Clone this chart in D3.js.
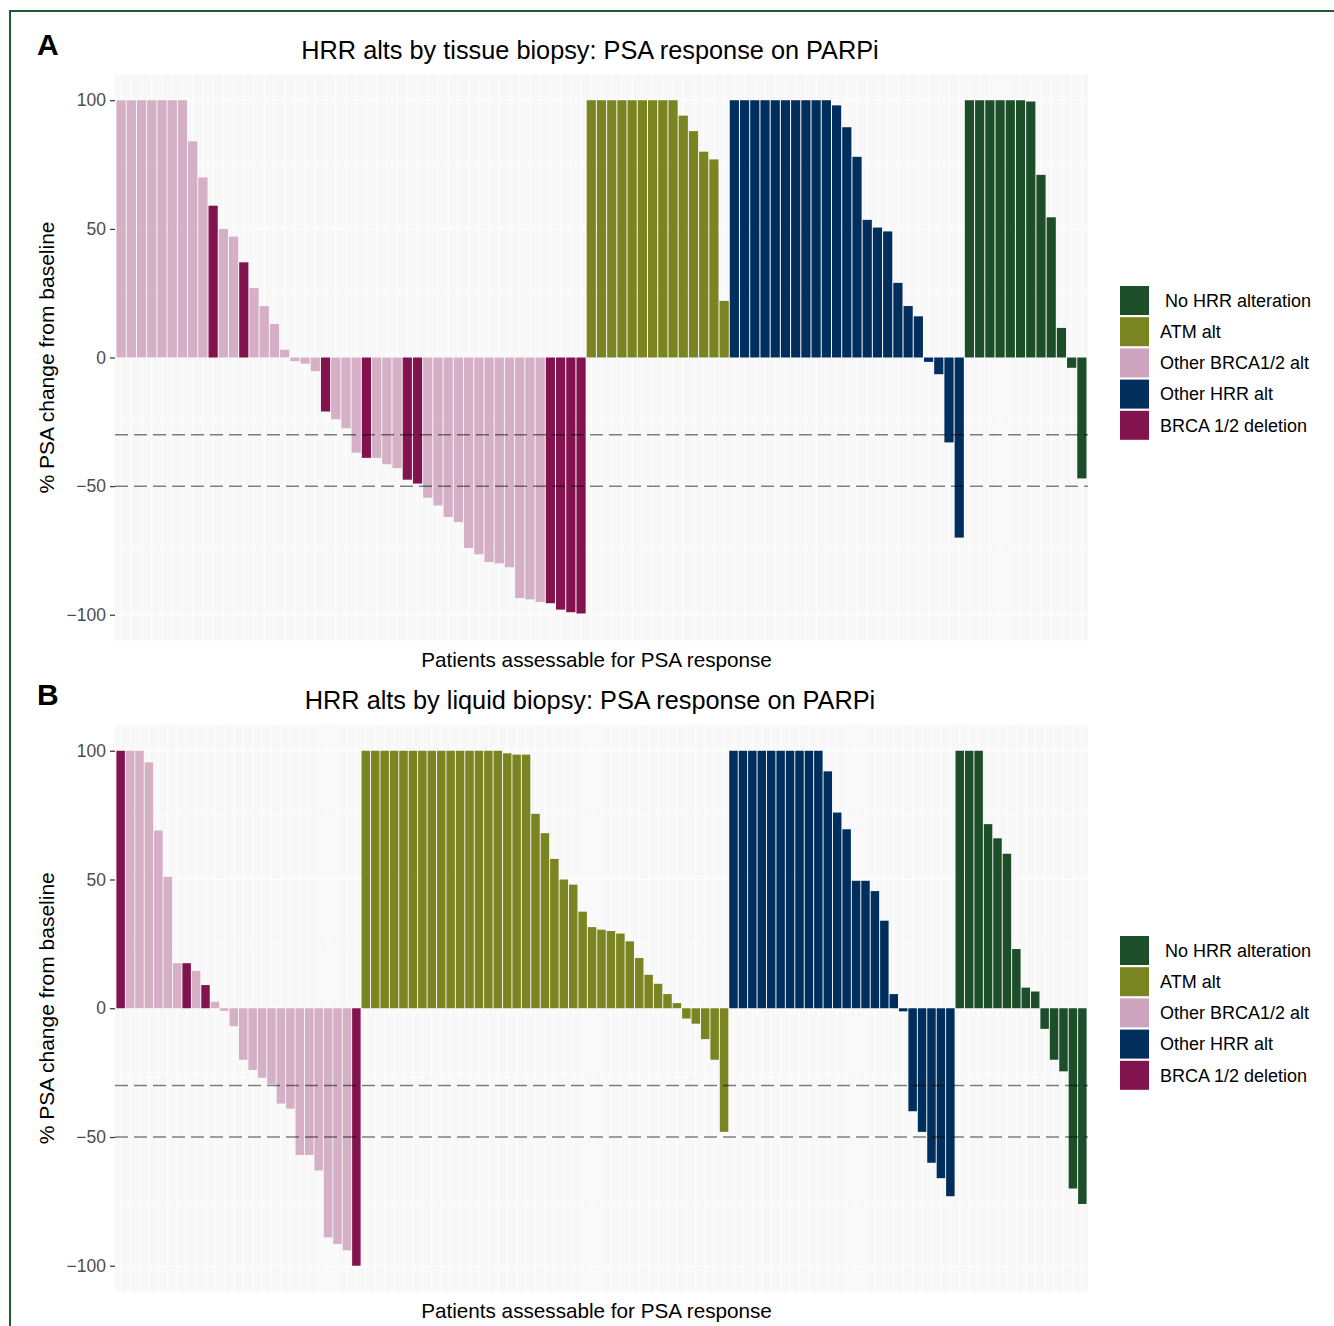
<!DOCTYPE html>
<html>
<head>
<meta charset="utf-8">
<script src="https://cdn.jsdelivr.net/npm/d3@7"></script>
<style>
  body { margin: 0; background: #fff; }
  text { font-family: Arial, "Liberation Sans", Helvetica, sans-serif; }
</style>
</head>
<body>
<svg id="chart" width="1334" height="1326"></svg>
<script>
// legend categories, in legend order
const categories = ["No HRR alteration", "ATM alt", "Other BRCA1/2 alt", "Other HRR alt", "BRCA 1/2 deletion"];
const catCodes = ["N", "A", "B", "H", "D"];
const yTicks = [-100, -50, 0, 50, 100];
const thresholds = [-30, -50];

// panel A: tissue biopsy, one code + one value per patient
const tissueAlt =
  "BBBBBBBBBDBBDBBBBBBBDBBBDBBBDDBBBBBBBBBBBBDDDD" +
  "AAAAAAAAAAAAAA" +
  "HHHHHHHHHHHHHHHHHHHHHHH" +
  "NNNNNNNNNNNN";
const tissueValues = [
  100, 100, 100, 100, 100, 100, 100, 84, 70, 59, 50, 47, 37, 27, 20, 13, 3, -1.4, -2.4, -5.3,
  -21, -24, -27.5, -37, -39, -39, -41.5, -43, -47.5, -49, -54.5, -57.5, -62, -64, -74, -76.5,
  -79.5, -80, -81.5, -93.5, -94, -95, -95.5, -98, -99, -99.5,
  100, 100, 100, 100, 100, 100, 100, 100, 100, 94, 88, 80, 77, 22,
  100, 100, 100, 100, 100, 100, 100, 100, 100, 100, 98, 89.5, 78, 53.5, 50.5, 49, 29, 20, 16,
  -1.7, -6.5, -33, -70,
  100, 100, 100, 100, 100, 100, 99.5, 71, 54.5, 11.5, -4, -47
];

// panel B: liquid biopsy
const liquidAlt =
  "DBBBBBBDBDBBBBBBBBBBBBBBBD" +
  "AAAAAAAAAAAAAAAAAAAAAAAAAAAAAAAAAAAAAAA" +
  "HHHHHHHHHHHHHHHHHHHHHHHH" +
  "NNNNNNNNNNNNNN";
const liquidValues = [
  100, 100, 100, 95.5, 69, 51, 17.5, 17.5, 14.5, 9, 2.5, -1, -7, -20, -24, -27, -29.5, -37, -39,
  -57, -57, -63, -89, -91.5, -94, -100,
  100, 100, 100, 100, 100, 100, 100, 100, 100, 100, 100, 100, 100, 100, 100, 99, 98.5, 98.5,
  75.5, 68, 58, 50, 48, 37.5, 31.5, 30.5, 30, 29, 26, 19.5, 13, 9.5, 5.5, 2, -4, -6, -12, -20, -48,
  100, 100, 100, 100, 100, 100, 100, 100, 100, 100, 92, 76, 69.5, 49.5, 49.5, 45.5, 34, 5.5,
  -1.2, -40, -48, -60, -66, -73,
  100, 100, 100, 71.5, 66, 60, 23, 8, 6.5, -8, -20, -24.5, -70, -76
];

const colors = { N: "#1d4e2a", A: "#7a8420", B: "#c28cac", H: "#002f5e", D: "#83134f" };
const opac = { N: 1, A: 1, B: 0.68, H: 1, D: 1 };

const svg = d3.select("#chart");

// outer frame (top and left edges visible)
svg.append("path")
  .attr("d", "M10,1326 L10,11 L1334,11")
  .attr("fill", "none")
  .attr("stroke", "#1f5a33")
  .attr("stroke-width", 2);

const left = 115, right = 1088;

function drawPanel(opts) {
  const data = opts.values.map((v, i) => ({ i: i, v: v, alt: opts.alt[i] }));
  const g = svg.append("g");

  const x = d3.scaleBand()
    .domain(data.map(d => d.i))
    .range([left, right])
    .paddingInner(0.1)
    .paddingOuter(0.15);
  const y = d3.scaleLinear().domain([-110, 110]).range([opts.bottom, opts.top]);

  // panel background
  g.append("rect")
    .attr("x", left).attr("y", opts.top)
    .attr("width", right - left).attr("height", opts.bottom - opts.top)
    .attr("fill", "#f8f8f8");

  // grid
  g.selectAll(".hminor").data([-75, -25, 25, 75]).enter().append("line")
    .attr("x1", left).attr("x2", right)
    .attr("y1", d => y(d)).attr("y2", d => y(d))
    .attr("stroke", "#fff").attr("stroke-width", 0.6);
  g.selectAll(".hmajor").data(yTicks).enter().append("line")
    .attr("x1", left).attr("x2", right)
    .attr("y1", d => y(d)).attr("y2", d => y(d))
    .attr("stroke", "#fff").attr("stroke-width", 1.2);
  g.selectAll(".vgrid").data(data).enter().append("line")
    .attr("x1", d => x(d.i) + x.bandwidth() / 2).attr("x2", d => x(d.i) + x.bandwidth() / 2)
    .attr("y1", opts.top).attr("y2", opts.bottom)
    .attr("stroke", "#fff").attr("stroke-width", 1);

  // bars
  g.selectAll(".bar").data(data).enter().append("rect")
    .attr("x", d => x(d.i))
    .attr("width", x.bandwidth())
    .attr("y", d => y(Math.max(0, d.v)))
    .attr("height", d => Math.abs(y(d.v) - y(0)))
    .attr("fill", d => colors[d.alt])
    .attr("fill-opacity", d => opac[d.alt]);

  // response thresholds
  g.selectAll(".thr").data(thresholds).enter().append("line")
    .attr("x1", left).attr("x2", right)
    .attr("y1", d => y(d)).attr("y2", d => y(d))
    .attr("stroke", "#000").attr("stroke-opacity", 0.5)
    .attr("stroke-width", 1.5)
    .attr("stroke-dasharray", "13,6");

  // y axis
  const yAxis = g.append("g")
    .attr("transform", `translate(${left},0)`)
    .call(d3.axisLeft(y).tickValues(yTicks).tickSize(5).tickPadding(4));
  yAxis.select(".domain").remove();
  yAxis.selectAll(".tick line").attr("stroke", "#333").attr("stroke-width", 1.2);
  yAxis.selectAll(".tick text")
    .attr("fill", "#4d4d4d")
    .style("font-size", "17.5px");

  // labels
  g.append("text")
    .attr("x", 37).attr("y", opts.top - 20)
    .style("font-size", "30px").style("font-weight", "bold")
    .text(opts.letter);
  g.append("text")
    .attr("x", 590).attr("y", opts.top - 16)
    .attr("text-anchor", "middle")
    .style("font-size", "25.3px")
    .text(opts.title);
  g.append("text")
    .attr("x", 596.5).attr("y", opts.bottom + 26)
    .attr("text-anchor", "middle")
    .style("font-size", "20.7px")
    .text("Patients assessable for PSA response");
  g.append("text")
    .attr("transform", `translate(54,${y(0)}) rotate(-90)`)
    .attr("text-anchor", "middle")
    .style("font-size", "21px")
    .text("% PSA change from baseline");

  // legend
  const lg = g.append("g").attr("transform", `translate(1120,${opts.legendTop})`);
  const items = lg.selectAll(".key").data(categories).enter().append("g")
    .attr("transform", (d, i) => `translate(0,${i * 31.2})`);
  items.append("rect")
    .attr("width", 29).attr("height", 29)
    .attr("fill", (d, i) => colors[catCodes[i]])
    .attr("fill-opacity", (d, i) => catCodes[i] === "B" ? 0.8 : 1);
  items.append("text")
    .attr("x", (d, i) => i === 0 ? 45 : 40).attr("y", 14.5)
    .attr("dy", "0.35em")
    .style("font-size", "18px")
    .text(d => d);
}

drawPanel({
  letter: "A",
  title: "HRR alts by tissue biopsy: PSA response on PARPi",
  values: tissueValues, alt: tissueAlt,
  top: 74.5, bottom: 640.5, legendTop: 286
});
drawPanel({
  letter: "B",
  title: "HRR alts by liquid biopsy: PSA response on PARPi",
  values: liquidValues, alt: liquidAlt,
  top: 725, bottom: 1291.5, legendTop: 936
});
</script>
</body>
</html>
